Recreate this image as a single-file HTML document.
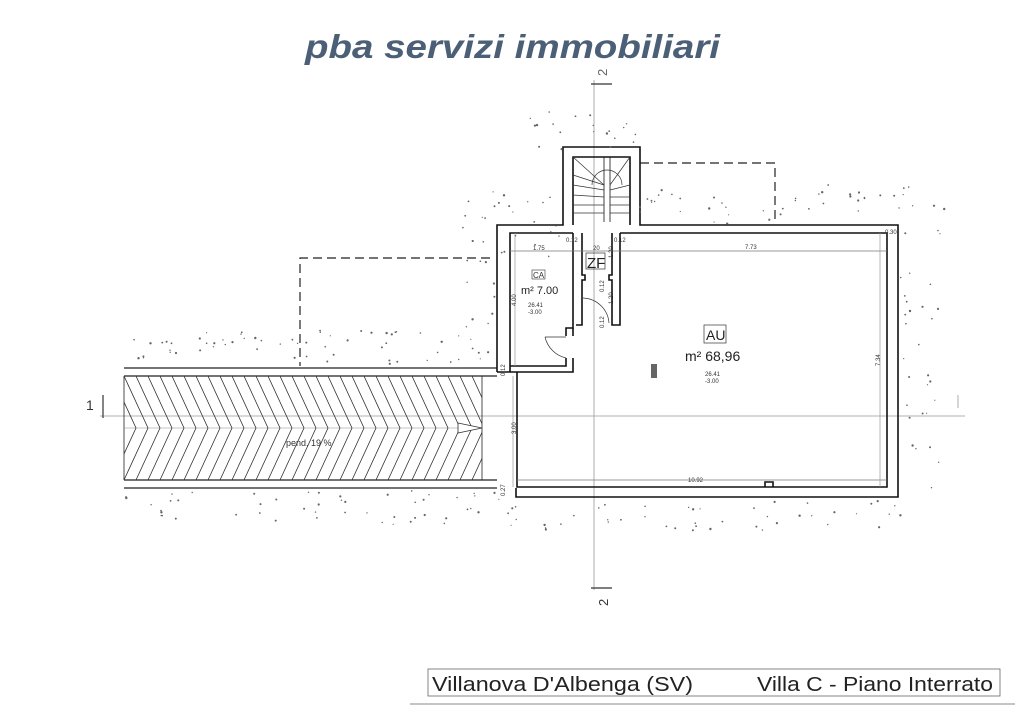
<!DOCTYPE html>
<html><head><meta charset="utf-8"><style>
html,body{margin:0;padding:0;background:#fff;}
svg{display:block;}
</style></head><body>
<svg id="s" width="1024" height="723" viewBox="0 0 1024 723" xmlns="http://www.w3.org/2000/svg" font-family="Liberation Sans, sans-serif">
<defs><clipPath id="rc"><rect x="124" y="376" width="358" height="104"/></clipPath></defs>
<rect width="1024" height="723" fill="#fff"/>
<text x="305" y="58" font-size="33" font-weight="bold" font-style="italic" fill="#4b5f77" textLength="415" lengthAdjust="spacingAndGlyphs">pba servizi immobiliari</text>

<g stroke="#999" stroke-width="0.8">
<line x1="100" y1="416" x2="965" y2="416"/>
<line x1="594" y1="80" x2="594" y2="590"/>
</g>
<g stroke="#333" stroke-width="1.2">
<line x1="103" y1="395" x2="103" y2="418"/>
<line x1="591" y1="84" x2="612" y2="84"/>
<line x1="591" y1="588" x2="612" y2="588"/>
<line x1="958" y1="395" x2="958" y2="408" stroke="#bbb"/>
</g>
<text x="86" y="410" font-size="14" fill="#333">1</text>
<text x="0" y="0" font-size="13" fill="#666" transform="translate(607,76) rotate(-90)">2</text>
<text x="0" y="0" font-size="13" fill="#333" transform="translate(608,606) rotate(-90)">2</text>

<g stroke="#222" stroke-width="1.2" fill="none" stroke-dasharray="9,5">
<polyline points="490,258 300,258 300,366"/>
<polyline points="640,163 775,163 775,223"/>
</g>

<g stroke="#222" fill="none">
<line x1="124" y1="368" x2="497" y2="368" stroke-width="1.3"/>
<line x1="124" y1="376" x2="497" y2="376" stroke-width="1.3"/>
<line x1="124" y1="480" x2="497" y2="480" stroke-width="1.3"/>
<line x1="124" y1="488" x2="497" y2="488" stroke-width="1.3"/>
<line x1="124" y1="376" x2="124" y2="480" stroke-width="0.8"/>
<line x1="482" y1="376" x2="482" y2="480" stroke-width="0.8"/>
<line x1="124" y1="428" x2="482" y2="428" stroke-width="0.5" stroke="#888"/>
</g>
<g id="hatch" stroke="#333" stroke-width="0.8" fill="none" clip-path="url(#rc)"></g>
<polygon points="458,423 482,428 458,433" fill="#fff" stroke="#333" stroke-width="0.8"/>
<text x="286" y="446" font-size="9" fill="#333">pend. 19 %</text>

<g fill="none" stroke="#111" stroke-width="1.6">
<polyline points="497,372 497,225 563,225 563,147 640,147 640,225 898,225 898,497 516,497 516,488"/>
<polyline points="510,372 510,233 573,233"/>
<polyline points="620,233 887,233 887,487 765,487 765,482 773,482 773,487 517,487 517,372"/>
<polyline points="497,372 573,372 573,358"/>
<polyline points="510,366 566,366 566,358"/>
<polyline points="566,336 566,328 573,328 573,233"/>
<polyline points="573,336 573,328"/>
<polyline points="582,233 582,275 585,275 585,280 582,280 582,325 576,325"/>
<polyline points="612,233 612,275 609,275 609,280 612,280 612,325 620,325 620,233"/>
<polyline points="573,225 573,157 630,157 630,225"/>
<line x1="604" y1="157" x2="604" y2="222" stroke-width="0.8"/>
<line x1="610" y1="157" x2="610" y2="222" stroke-width="0.8"/>
</g>
<g stroke="#333" stroke-width="0.7" fill="none">
<line x1="573" y1="175" x2="604" y2="185"/><line x1="573" y1="185" x2="604" y2="190"/>
<line x1="573" y1="195" x2="604" y2="197"/><line x1="573" y1="205" x2="604" y2="205"/>
<line x1="573" y1="213" x2="604" y2="213"/><line x1="610" y1="190" x2="630" y2="185"/>
<line x1="610" y1="197" x2="630" y2="197"/><line x1="610" y1="205" x2="630" y2="205"/>
<line x1="610" y1="213" x2="630" y2="213"/>
<path d="M592,185 A15,15 0 0 1 622,185" />
<line x1="573" y1="157" x2="604" y2="185"/><line x1="630" y1="157" x2="610" y2="185"/>
<path d="M545,337 A28,28 0 0 0 566,358"/>
<line x1="545" y1="337" x2="566" y2="337"/>
<path d="M583,298 A27,27 0 0 1 609,323"/>
<line x1="510" y1="251" x2="887" y2="251" stroke="#777"/>
<line x1="517" y1="480" x2="887" y2="480" stroke="#777"/>
<line x1="880" y1="233" x2="880" y2="487" stroke="#999"/>
<line x1="513" y1="376" x2="513" y2="487" stroke="#999"/>
<line x1="515" y1="233" x2="515" y2="366" stroke="#999"/>
</g>
<rect x="651" y="364" width="6" height="14" fill="#666"/>
<g fill="#333" font-size="6">
<text x="533" y="250">1.75</text><text x="593" y="250">20</text><text x="745" y="249">7.73</text>
<text x="566" y="242">0.12</text><text x="614" y="242">0.12</text>
<text x="885" y="234">0.30</text><text x="688" y="482">10.92</text>
<text x="528" y="307">26.41</text><text x="528" y="314">-3.00</text>
<text x="705" y="376">26.41</text><text x="705" y="383">-3.00</text>
</g>
<g fill="#333" font-size="6">
<text transform="translate(516,306) rotate(-90)">4.00</text>
<text transform="translate(604,292) rotate(-90)">0.12</text>
<text transform="translate(613,258) rotate(-90)">1.20</text>
<text transform="translate(613,304) rotate(-90)">1.20</text>
<text transform="translate(604,328) rotate(-90)">0.12</text>
<text transform="translate(505,376) rotate(-90)">0.12</text>
<text transform="translate(516,434) rotate(-90)">3.00</text>
<text transform="translate(505,496) rotate(-90)">0.27</text>
<text transform="translate(880,366) rotate(-90)">7.34</text>
</g>
<rect x="532" y="270" width="13" height="9" fill="none" stroke="#333" stroke-width="0.6"/>
<text x="533" y="278" font-size="8" fill="#333">CA</text>
<text x="521" y="294" font-size="11" fill="#222">m² 7.00</text>
<rect x="586" y="253" width="19" height="16" fill="none" stroke="#333" stroke-width="0.7"/>
<text x="587" y="268" font-size="15" fill="#222">ZF</text>
<rect x="704" y="325" width="22" height="18" fill="none" stroke="#333" stroke-width="0.7"/>
<text x="706" y="340" font-size="14" fill="#222">AU</text>
<text x="685" y="361" font-size="14" fill="#222">m² 68,96</text>

<g id="dots" fill="#666"></g>

<rect x="428" y="669" width="572" height="27" fill="none" stroke="#666" stroke-width="0.8"/>
<text x="432" y="691" font-size="20" fill="#222" textLength="261" lengthAdjust="spacingAndGlyphs">Villanova D'Albenga (SV)</text>
<text x="757" y="691" font-size="20" fill="#222" textLength="236" lengthAdjust="spacingAndGlyphs">Villa C - Piano Interrato</text>
<line x1="410" y1="704" x2="1015" y2="704" stroke="#888" stroke-width="1"/>
</svg>
<script>
var ns="http://www.w3.org/2000/svg";
var h=document.getElementById("hatch");
for(var x=112;x<482;x+=12){
 var p=document.createElementNS(ns,"polyline");
 p.setAttribute("points",x+",376 "+(x+24)+",428 "+x+",480");
 h.appendChild(p);
}
var d=document.getElementById("dots");
var seed=7;function r(){seed=(seed*9301+49297)%233280;return seed/233280;}
function add(x0,y0,w,hh,n){for(var i=0;i<n;i++){var c=document.createElementNS(ns,"circle");c.setAttribute("cx",(x0+r()*w).toFixed(1));c.setAttribute("cy",(y0+r()*hh).toFixed(1));c.setAttribute("r",(0.6+r()*0.6).toFixed(1));d.appendChild(c);}}
add(130,330,170,30,30);add(305,330,185,35,30);add(460,190,100,70,25);add(520,110,120,40,20);
add(640,190,130,35,20);add(780,185,170,30,25);add(900,230,40,260,30);add(125,490,380,35,50);
add(505,500,400,32,45);add(465,260,30,100,12);
</script>
</body></html>
